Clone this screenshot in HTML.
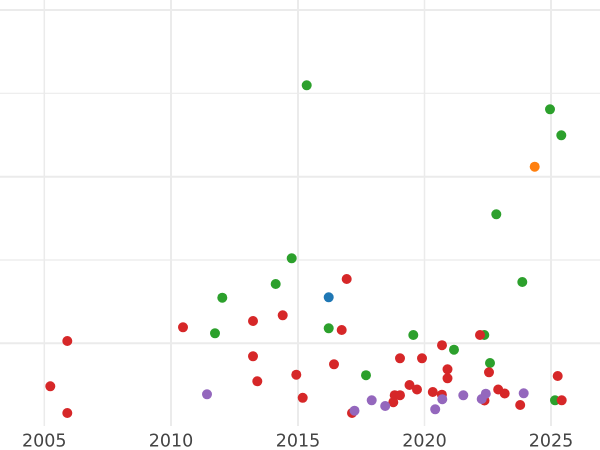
<!DOCTYPE html>
<html>
<head>
<meta charset="utf-8">
<style>
html,body{margin:0;padding:0;background:#fff;}
svg{display:block;}
text{font-family:"DejaVu Sans","Liberation Sans",sans-serif;font-size:17.5px;fill:#444;}
</style>
</head>
<body>
<svg width="600" height="450" viewBox="0 0 600 450" xmlns="http://www.w3.org/2000/svg">
<rect width="600" height="450" fill="#fff"/>
<g stroke="#ebebeb">
<line x1="0" x2="600" y1="10" y2="10" stroke-width="2"/>
<line x1="0" x2="600" y1="93.3" y2="93.3" stroke-width="1.2"/>
<line x1="0" x2="600" y1="176.7" y2="176.7" stroke-width="2"/>
<line x1="0" x2="600" y1="260" y2="260" stroke-width="1.2"/>
<line x1="0" x2="600" y1="343.3" y2="343.3" stroke-width="2"/>
<line x1="44.3" x2="44.3" y1="0" y2="426" stroke-width="1.5"/>
<line x1="171" x2="171" y1="0" y2="426" stroke-width="2"/>
<line x1="298" x2="298" y1="0" y2="426" stroke-width="2"/>
<line x1="424.5" x2="424.5" y1="0" y2="426" stroke-width="1.5"/>
<line x1="551" x2="551" y1="0" y2="426" stroke-width="2"/>
</g>
<g fill="#2ca02c">
<circle cx="306.7" cy="85.3" r="5"/>
<circle cx="550" cy="109.3" r="5"/>
<circle cx="561.3" cy="135.3" r="5"/>
<circle cx="496.3" cy="214.3" r="5"/>
<circle cx="291.7" cy="258.3" r="5"/>
<circle cx="275.7" cy="284" r="5"/>
<circle cx="222.3" cy="297.7" r="5"/>
<circle cx="215" cy="333.3" r="5"/>
<circle cx="328.7" cy="328.3" r="5"/>
<circle cx="413.3" cy="335" r="5"/>
<circle cx="366" cy="375.2" r="5"/>
<circle cx="454" cy="349.7" r="5"/>
<circle cx="484.3" cy="335" r="5"/>
<circle cx="490" cy="363" r="5"/>
<circle cx="522.3" cy="282" r="5"/>
<circle cx="555" cy="400.3" r="5"/>
</g>
<g fill="#d62728">
<circle cx="183" cy="327.3" r="5"/>
<circle cx="253" cy="321" r="5"/>
<circle cx="282.7" cy="315.3" r="5"/>
<circle cx="67.3" cy="341" r="5"/>
<circle cx="253" cy="356.3" r="5"/>
<circle cx="296.3" cy="374.7" r="5"/>
<circle cx="257.3" cy="381.3" r="5"/>
<circle cx="50.3" cy="386.3" r="5"/>
<circle cx="67.3" cy="413" r="5"/>
<circle cx="302.7" cy="397.8" r="5"/>
<circle cx="346.7" cy="279" r="5"/>
<circle cx="341.7" cy="330" r="5"/>
<circle cx="334" cy="364.3" r="5"/>
<circle cx="400" cy="358.3" r="5"/>
<circle cx="422" cy="358.3" r="5"/>
<circle cx="442" cy="345.2" r="5"/>
<circle cx="447.5" cy="369.3" r="5"/>
<circle cx="447.5" cy="378.3" r="5"/>
<circle cx="409.5" cy="385" r="5"/>
<circle cx="417" cy="389.5" r="5"/>
<circle cx="432.8" cy="392" r="5"/>
<circle cx="441.9" cy="394.7" r="5"/>
<circle cx="394.7" cy="395.2" r="5"/>
<circle cx="400" cy="395.2" r="5"/>
<circle cx="393.3" cy="402.2" r="5"/>
<circle cx="352" cy="413" r="5"/>
<circle cx="480" cy="335" r="5"/>
<circle cx="489" cy="372.3" r="5"/>
<circle cx="498.2" cy="389.5" r="5"/>
<circle cx="504.7" cy="393.5" r="5"/>
<circle cx="484.5" cy="400.5" r="5"/>
<circle cx="520.2" cy="405" r="5"/>
<circle cx="557.7" cy="376" r="5"/>
<circle cx="561.7" cy="400.3" r="5"/>
</g>
<g fill="#9467bd">
<circle cx="207" cy="394.3" r="5"/>
<circle cx="442.3" cy="399.2" r="5"/>
<circle cx="435.2" cy="409.3" r="5"/>
<circle cx="385.2" cy="406" r="5"/>
<circle cx="371.7" cy="400.3" r="5"/>
<circle cx="354.5" cy="410.7" r="5"/>
<circle cx="463.3" cy="395.3" r="5"/>
<circle cx="485.8" cy="393.7" r="5"/>
<circle cx="481.7" cy="399" r="5"/>
<circle cx="523.7" cy="393.3" r="5"/>
</g>
<circle cx="328.7" cy="297.3" r="5" fill="#1f77b4"/>
<circle cx="534.7" cy="166.7" r="5" fill="#ff7f0e"/>
<g text-anchor="middle">
<text x="44.3" y="446.5">2005</text>
<text x="171" y="446.5">2010</text>
<text x="298" y="446.5">2015</text>
<text x="424.5" y="446.5">2020</text>
<text x="551" y="446.5">2025</text>
</g>
</svg>
</body>
</html>
